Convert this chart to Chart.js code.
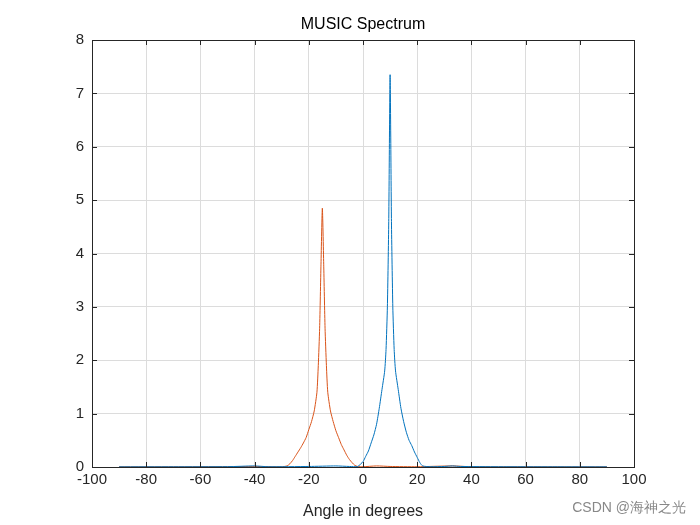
<!DOCTYPE html>
<html>
<head>
<meta charset="utf-8">
<script src="https://cdn.jsdelivr.net/npm/chart.js@4"></script>
<style>
  body { margin: 0; background: #fff; }
  #wrap { width: 700px; height: 525px; position: relative; }
</style>
</head>
<body>
<div id="wrap"><canvas id="c" width="700" height="525"></canvas></div>
<script>
// углы и значения спектра
const blueAngles = [-90, -70, -50, -40, -35, -20, -10, -5, -2, 0, 1, 2, 3, 4, 5, 6, 7, 8, 8.5, 9, 9.5, 10, 10.5, 11, 11.5, 12, 13, 14, 15, 16, 17, 18, 19, 20, 21, 22, 25, 30, 33, 36, 50, 70, 90];
const blueValues = [0.003, 0.004, 0.006, 0.02, 0.005, 0.01, 0.02, 0.01, 0.01, 0.1, 0.2, 0.3, 0.45, 0.6, 0.8, 1.1, 1.45, 1.8, 2.2, 3.0, 4.6, 7.35, 4.6, 3.0, 2.2, 1.8, 1.45, 1.1, 0.85, 0.65, 0.5, 0.4, 0.28, 0.18, 0.08, 0.02, 0.005, 0.01, 0.02, 0.01, 0.005, 0.004, 0.003];

const redAngles = [-90, -70, -50, -40, -30, -28, -27, -26, -25, -24, -23, -22, -21, -20, -19, -18, -17, -16.5, -16, -15.5, -15, -14.5, -14, -13.5, -13, -12, -11, -10, -9, -8, -7, -6, -5, -4, -3, -2, 0, 5, 10, 20, 33, 40, 60, 90];
const redValues = [0.004, 0.005, 0.008, 0.01, 0.005, 0.02, 0.06, 0.12, 0.2, 0.28, 0.36, 0.45, 0.55, 0.7, 0.85, 1.05, 1.4, 1.9, 2.6, 3.8, 4.85, 3.8, 2.6, 1.9, 1.4, 1.05, 0.85, 0.68, 0.55, 0.42, 0.32, 0.22, 0.14, 0.08, 0.03, 0.01, 0.005, 0.02, 0.01, 0.005, 0.02, 0.005, 0.004, 0.003];

const xTicks = [-100, -80, -60, -40, -20, 0, 20, 40, 60, 80, 100];

const FONT = "'Liberation Sans', Arial, sans-serif";

function toPoints(xs, ys) {
  return xs.map((x, i) => ({ x, y: ys[i] }));
}

// рамка, заголовок и подпись
const decor = {
  id: "decor",
  afterDraw(ch) {
    const { ctx, chartArea: a } = ch;
    ctx.save();
    ctx.strokeStyle = "#262626";
    ctx.lineWidth = 1;
    ctx.strokeRect(a.left + 0.5, a.top + 0.5, a.right - a.left, a.bottom - a.top);
    // короткие засечки внутрь
    const xs = ch.scales.x, ys = ch.scales.y;
    ctx.beginPath();
    xTicks.forEach(t => {
      const px = Math.round(xs.getPixelForValue(t)) + 0.5;
      ctx.moveTo(px, a.bottom); ctx.lineTo(px, a.bottom - 5);
      ctx.moveTo(px, a.top); ctx.lineTo(px, a.top + 5);
    });
    for (let v = 0; v <= 8; v++) {
      const py = Math.round(ys.getPixelForValue(v)) + 0.5;
      ctx.moveTo(a.left, py); ctx.lineTo(a.left + 5, py);
      ctx.moveTo(a.right, py); ctx.lineTo(a.right - 5, py);
    }
    ctx.stroke();
    ctx.fillStyle = "#000";
    ctx.font = "16px " + FONT;
    ctx.textAlign = "center";
    ctx.textBaseline = "middle";
    ctx.fillText("MUSIC Spectrum", (a.left + a.right) / 2, 25);
    ctx.fillStyle = "#888";
    ctx.font = "14px " + FONT;
    ctx.textAlign = "right";
    ctx.fillText("CSDN @海神之光", 686, 508);
    ctx.restore();
  }
};

new Chart(document.getElementById("c"), {
  type: "line",
  data: {
    datasets: [
      { data: toPoints(blueAngles, blueValues), borderColor: "#0072BD", borderWidth: 1, pointRadius: 0, tension: 0.2 },
      { data: toPoints(redAngles, redValues), borderColor: "#D95319", borderWidth: 1, pointRadius: 0, tension: 0.2 }
    ]
  },
  options: {
    responsive: false,
    animation: false,
    layout: { padding: { top: 40, right: 66, left: 0, bottom: 0 } },
    plugins: { legend: { display: false }, tooltip: { enabled: false } },
    scales: {
      x: {
        type: "linear", min: -100, max: 100,
        afterBuildTicks: s => { s.ticks = xTicks.map(v => ({ value: v })); },
        afterFit: s => { s.height = 58; },
        ticks: { color: "#262626", font: { family: FONT, size: 15 }, maxRotation: 0, padding: 4 },
        grid: { color: "#dcdcdc", drawTicks: false },
        border: { display: false },
        title: { display: true, text: "Angle in degrees", color: "#262626", font: { family: FONT, size: 16 }, padding: { top: 0, bottom: 4 } }
      },
      y: {
        min: 0, max: 8,
        afterFit: s => { s.width = 92; },
        ticks: { stepSize: 1, color: "#262626", font: { family: FONT, size: 15 }, padding: 8 },
        grid: { color: "#dcdcdc", drawTicks: false },
        border: { display: false }
      }
    }
  },
  plugins: [decor]
});
</script>
</body>
</html>
